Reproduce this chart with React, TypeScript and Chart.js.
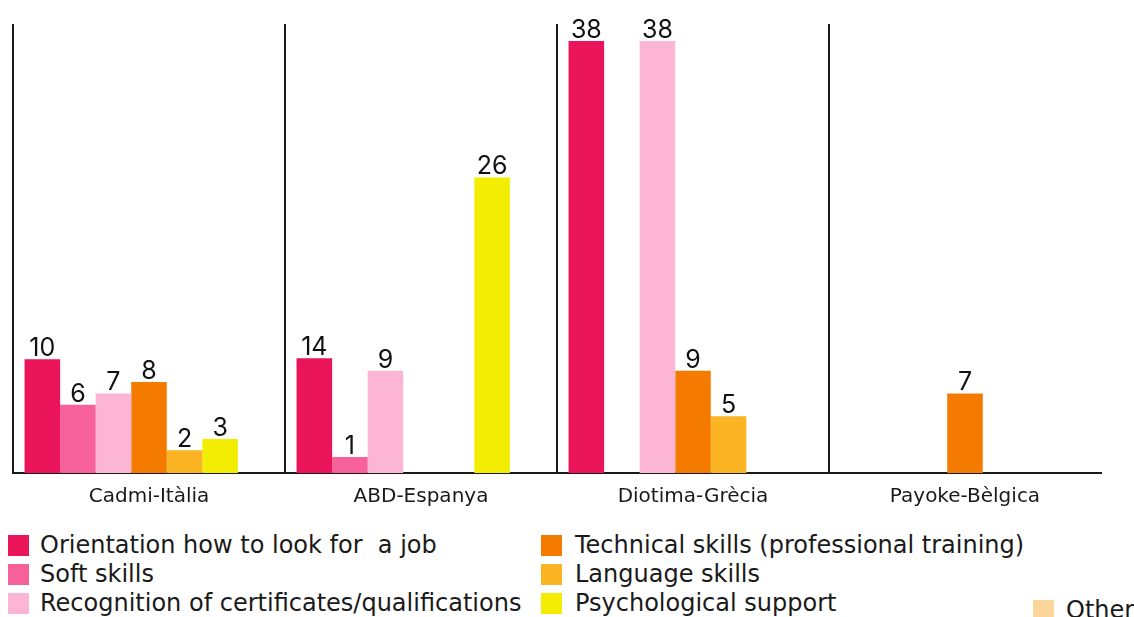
import React, { useEffect, useRef } from "react";
import { Chart, registerables } from "chart.js";

Chart.register(...registerables);

const categories = ["Cadmi-Itàlia", "ABD-Espanya", "Diotima-Grècia", "Payoke-Bèlgica"];

const seriesNames = [
  "Orientation how to look for  a job",
  "Soft skills",
  "Recognition of certificates/qualifications",
  "Technical skills (professional training)",
  "Language skills",
  "Psychological support",
  "Other",
];

const seriesColors = ["#e9145a", "#f6619a", "#fdb5d6", "#f57b00", "#fbb423", "#f3ed03", "#fdd69b"];

// bar heights as drawn in the picture
const orientation = [10, 10.1, 38, 0];
const softSkills = [6, 1.4, 0, 0];
const recognition = [7, 9, 38, 0];
const technical = [8, 0, 9, 7];
const language = [2, 0, 5, 0];
const psychological = [3, 26, 0, 0];
const other = [0, 0, 0, 0];

// numbers printed above the bars
const orientationLabels = [10, 14, 38, 0];
const softSkillsLabels = [6, 1, 0, 0];
const recognitionLabels = [7, 9, 38, 0];
const technicalLabels = [8, 0, 9, 7];
const languageLabels = [2, 0, 5, 0];
const psychologicalLabels = [3, 26, 0, 0];
const otherLabels = [0, 0, 0, 0];

const seriesValues = [orientation, softSkills, recognition, technical, language, psychological, other];
const seriesLabels = [
  orientationLabels,
  softSkillsLabels,
  recognitionLabels,
  technicalLabels,
  languageLabels,
  psychologicalLabels,
  otherLabels,
];

const NUM_FONT = "Inter, 'Open Sans', sans-serif";
const TEXT_FONT = "'DejaVu Sans', Verdana, sans-serif";

const valueLabels = {
  id: "valueLabels",
  afterDatasetsDraw(chart: any) {
    const ctx = chart.ctx;
    ctx.save();
    ctx.font = `400 25px ${NUM_FONT}`;
    ctx.fillStyle = "#111";
    ctx.textAlign = "center";
    ctx.textBaseline = "alphabetic";
    chart.data.datasets.forEach((ds: any, di: number) => {
      const meta = chart.getDatasetMeta(di);
      meta.data.forEach((el: any, i: number) => {
        const v = seriesLabels[di][i];
        if (!v) return;
        ctx.fillText(String(v), el.x, el.y - 3);
      });
    });
    ctx.restore();
  },
};

// legend placement
const legendPos = [
  { left: 8, top: 535, textLeft: 40 },
  { left: 8, top: 564, textLeft: 40 },
  { left: 8, top: 593, textLeft: 40 },
  { left: 541, top: 535, textLeft: 575 },
  { left: 541, top: 564, textLeft: 575 },
  { left: 541, top: 593, textLeft: 575 },
  { left: 1033, top: 600, textLeft: 1066 },
];

export default function App() {
  const ref = useRef<HTMLCanvasElement>(null);
  useEffect(() => {
    if (!ref.current) return;
    const chart = new Chart(ref.current, {
      type: "bar",
      data: {
        labels: categories,
        datasets: seriesNames.map((name, i) => ({
          label: name,
          data: seriesValues[i],
          backgroundColor: seriesColors[i],
          borderWidth: 0,
          barPercentage: 1,
          categoryPercentage: 0.915,
        })),
      },
      options: {
        responsive: false,
        animation: false,
        layout: { padding: { left: 13, right: 33, top: 24, bottom: 0 } },
        plugins: { legend: { display: false }, tooltip: { enabled: false } },
        scales: {
          x: {
            grid: {
              offset: true,
              drawTicks: false,
              lineWidth: 2,
              color: (c: any) => (c.type !== "tick" ? "rgba(0,0,0,0)" : "#1a1a1a"),
            },
            border: { display: true, color: "#1a1a1a", width: 2 },
            ticks: {
              padding: 12,
              color: "#1a1a1a",
              font: { family: TEXT_FONT, size: 20 },
            },
            afterFit: (s: any) => {
              s.height = 47;
            },
          },
          y: {
            display: false,
            min: 0,
            max: 39.5,
          },
        },
      },
      plugins: [valueLabels],
    });
    return () => chart.destroy();
  }, []);

  return (
    <div style={{ position: "absolute", left: 0, top: 0, width: 1134, height: 617, background: "#fff", overflow: "hidden", fontFamily: TEXT_FONT }}>
      <canvas ref={ref} width={1134} height={520} style={{ position: "absolute", left: 0, top: 0 }} />
      {seriesNames.map((name, i) => (
        <React.Fragment key={name}>
          <span
            style={{
              position: "absolute",
              left: legendPos[i].left,
              top: legendPos[i].top,
              width: 21,
              height: 21,
              background: seriesColors[i],
            }}
          />
          <span
            style={{
              position: "absolute",
              left: legendPos[i].textLeft,
              top: legendPos[i].top - 4,
              height: 29,
              lineHeight: "29px",
              whiteSpace: "pre",
              fontSize: 24,
              color: "#1a1a1a",
            }}
          >
            {name}
          </span>
        </React.Fragment>
      ))}
    </div>
  );
}
